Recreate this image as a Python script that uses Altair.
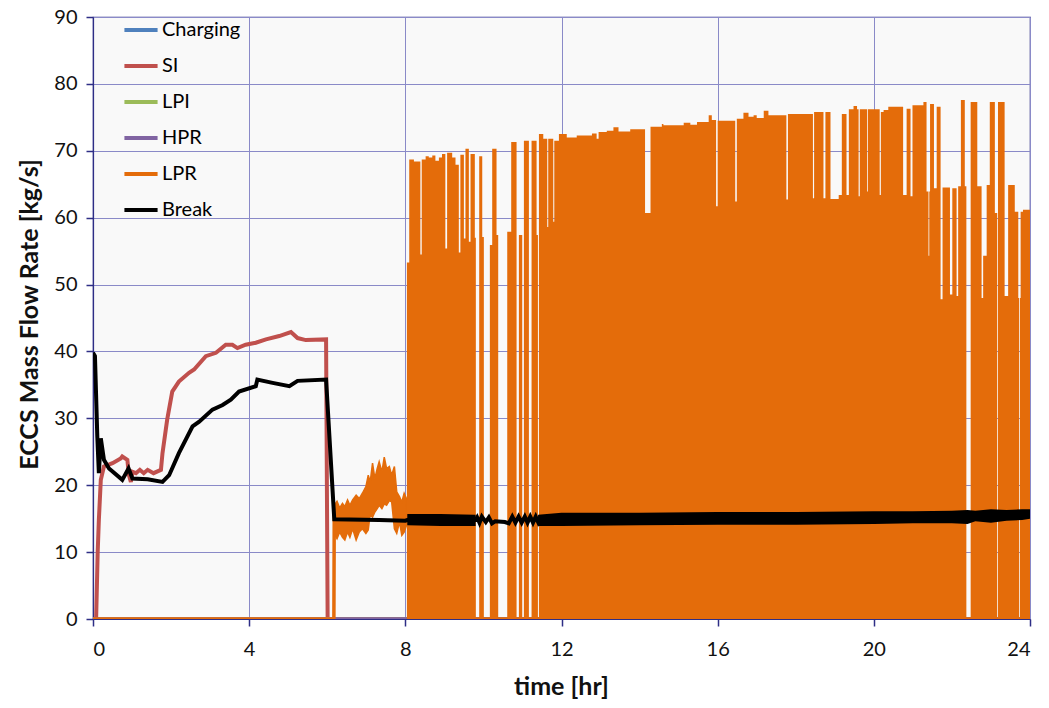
import altair as alt
import pandas as pd

SERIES = ["Charging", "SI", "LPI", "HPR", "LPR", "Break"]
COLORS = ["#4F81BD", "#C0504D", "#9BBB59", "#8064A2", "#E46C0A", "#000000"]
ORANGE = "#E46C0A"

# ---- series (time in hr, flow in kg/s) ----
charging_t = [0, 24]
charging_v = [0, 0]
lpi_t = [0, 24]
lpi_v = [0, 0]
hpr_t = [0, 24]
hpr_v = [0, 0]

si_t = [0, 0.08, 0.12, 0.15, 0.20, 0.28, 0.50, 0.71, 0.75, 0.88, 0.92, 0.97, 1.01, 1.10,
        1.20, 1.30, 1.40, 1.55, 1.74, 1.78, 1.90, 2.03, 2.20, 2.46, 2.59, 2.89, 3.15,
        3.40, 3.57, 3.70, 3.91, 4.17, 4.43, 4.77, 5.07, 5.24, 5.45, 5.97, 6.01, 24]
si_v = [0, 0, 10.0, 14.8, 20.8, 22.8, 23.3, 24.0, 24.3, 23.8, 21.5, 20.5, 22.0, 21.8,
        22.3, 21.8, 22.3, 21.8, 22.3, 24.8, 29.8, 34.0, 35.5, 36.8, 37.3, 39.3, 39.8,
        41.0, 41.0, 40.5, 41.0, 41.3, 41.8, 42.3, 42.9, 42.0, 41.7, 41.8, 0, 0]

# LPR: zero line, then noisy band 6.2-8 hr, then dense cycling 8-24 hr (upper envelope)
lpr_line_t = [0, 6.17, 6.18]
lpr_line_v = [0, 0, 17.0]
lpr_tail_t = [8.04, 24]
lpr_tail_v = [0, 0]

noise_t = [6.18, 6.25, 6.32, 6.39, 6.45, 6.52, 6.58, 6.65, 6.74, 6.82, 6.90, 6.99, 7.05, 7.10,
           7.16, 7.22, 7.28, 7.33, 7.40, 7.46, 7.52, 7.59, 7.65, 7.72, 7.78, 7.85, 7.91, 7.97, 8.03]
noise_hi = [17.0, 17.6, 16.6, 17.3, 16.8, 17.8, 17.0, 17.8, 18.5, 18.0, 18.8, 19.8, 21.5, 20.5,
            23.3, 21.0, 22.5, 23.5, 22.0, 24.2, 22.5, 22.8, 21.5, 22.8, 19.0, 18.3, 17.5, 18.8, 18.0]
noise_lo = [12.8, 12.0, 13.0, 12.2, 11.8, 13.0, 12.2, 13.5, 11.8, 13.0, 13.5, 12.8, 13.3, 15.7,
            15.2, 16.0, 16.5, 17.0, 16.5, 17.2, 17.0, 17.7, 17.5, 13.5, 12.8, 14.5, 12.5, 13.0, 14.0]

env_t = [8.04, 8.10, 8.22, 8.385, 8.42, 8.52, 8.60, 8.69, 8.77, 8.86, 8.94, 9.025, 9.07, 9.20,
         9.285, 9.37, 9.41, 9.50, 9.54, 9.627, 9.67, 9.78, 9.806, 9.892, 9.97, 10.011, 10.165,
         10.225, 10.336, 10.379, 10.61, 10.712, 10.849, 10.909, 10.994, 11.037, 11.165, 11.233,
         11.362, 11.396, 11.422, 11.533, 11.635, 11.66, 11.789, 11.815, 11.934, 12.135, 12.39,
         12.78, 12.90, 12.95, 13.16, 13.33, 13.46, 13.76, 14.14, 14.28, 14.57, 14.61, 15.13,
         15.30, 15.47, 15.77, 15.85, 15.96, 16.0, 16.45, 16.49, 16.66, 16.79, 16.92, 17.0,
         17.18, 17.30, 17.76, 17.80, 18.44, 18.47, 18.71, 18.76, 18.89, 19.10, 19.18, 19.30,
         19.36, 19.48, 19.57, 19.61, 19.64, 19.83, 19.85, 20.15, 20.18, 20.25, 20.37, 20.75,
         20.84, 20.94, 20.99, 21.27, 21.35, 21.40, 21.42, 21.44, 21.54, 21.61, 21.71, 21.76,
         21.95, 22.01, 22.12, 22.16, 22.23, 22.33, 22.37, 22.48, 22.65, 22.76, 22.80, 22.89,
         22.97, 23.10, 23.16, 23.18, 23.35, 23.44, 23.61, 23.70, 23.72, 23.74, 23.76, 23.82, 24.0]
env_v = [53.3, 68.7, 68.4, 54.5, 68.7, 69.2, 69.0, 69.3, 68.5, 69.0, 69.5, 55.4, 69.7, 69.0,
         67.9, 54.8, 69.4, 56.9, 70.3, 56.4, 69.5, 57.0, 0, 69.2, 57.1, 0, 55.9,
         70.3, 57.4, 0, 57.9, 71.3, 0, 57.4, 0, 71.5, 0, 71.5,
         57.4, 0, 72.5, 71.8, 58.6, 71.8, 59.4, 71.5, 72.5, 72.0, 72.3,
         72.6, 71.8, 72.8, 73.0, 73.5, 72.9, 73.2, 60.7, 73.6, 74.0, 73.8, 74.2,
         73.9, 74.3, 75.3, 74.6, 61.7, 74.5, 62.4, 74.8, 75.7, 75.1, 75.3, 74.9,
         76.0, 75.3, 62.7, 75.5, 62.9, 75.8, 62.9, 75.8, 62.8, 63.4, 75.5, 63.4,
         76.2, 76.7, 76.2, 63.2, 76.2, 63.9, 76.2, 63.4, 75.8, 76.1, 76.6, 63.4,
         76.3, 63.2, 76.8, 77.3, 63.9, 54.3, 63.9, 77.0, 64.4, 76.6, 47.8, 64.5,
         48.5, 64.4, 48.3, 64.7, 77.6, 64.7, 0, 77.3, 64.7, 48.0, 54.3, 64.9,
         77.3, 60.7, 0, 77.3, 48.3, 64.9, 60.9, 48.0, 0, 48.0, 60.9, 61.2, 61.2]

break_t = [0, 0.05, 0.11, 0.15, 0.20, 0.28, 0.41, 0.75, 0.91, 1.01, 1.40, 1.78, 1.95, 2.20,
           2.55, 2.72, 3.06, 3.32, 3.53, 3.74, 4.17, 4.21, 4.60, 5.03, 5.24, 5.97, 6.18,
           7.33, 8.00, 8.05, 9.80, 9.84, 9.90, 9.96, 10.06, 10.14, 10.22, 10.30, 10.55,
           10.65, 10.74, 10.82, 10.90, 10.98, 11.06, 11.13, 11.20, 11.27, 11.34, 11.40,
           11.45, 24.0]
break_v = [39.8, 39.3, 27.3, 21.8, 27.0, 23.8, 22.5, 20.8, 22.5, 21.0, 20.9, 20.5, 21.5, 24.8,
           28.8, 29.5, 31.3, 32.0, 32.8, 34.0, 34.8, 35.8, 35.3, 34.8, 35.6, 35.8, 14.9,
           14.8, 14.7, 14.8, 14.8, 15.2, 14.4, 15.3, 14.5, 15.2, 14.3, 14.6, 14.5,
           14.3, 15.3, 14.4, 15.3, 14.4, 15.3, 14.4, 15.3, 14.4, 15.3, 14.5,
           15.2, 15.4]

# dense oscillation band of Break (edges of the black band)
bband_seg = [1, 1, 1, 2, 2, 2, 2, 2, 2, 2, 2, 2, 2, 2, 2, 2, 2]
bband_t = [8.05, 8.90, 9.80, 11.40, 12.0, 14.0, 16.0, 18.0, 20.0, 21.0, 22.0, 22.4, 22.6,
           23.0, 23.4, 23.8, 24.0]
bband_lo = [14.0, 13.9, 13.9, 13.9, 13.9, 14.0, 14.1, 14.1, 14.2, 14.3, 14.3, 14.2, 14.6,
            14.4, 14.7, 14.8, 15.0]
bband_hi = [15.7, 15.7, 15.6, 15.6, 15.9, 15.9, 16.0, 16.0, 16.1, 16.1, 16.2, 16.3, 16.2,
            16.4, 16.3, 16.4, 16.4]

X_TICKS = [0, 4, 8, 12, 16, 20, 24]
Y_TICKS = [0, 10, 20, 30, 40, 50, 60, 70, 80, 90]

FONT = "Lato"
NAVY = "#2E2E86"
GRID = "#8A8AC8"


def frame(name, seg, t, v):
    return pd.DataFrame({"series": name, "seg": seg, "t": t, "v": v})


xscale = alt.Scale(domain=[0, 24], nice=False, zero=False)
yscale = alt.Scale(domain=[0, 90], nice=False)
cscale = alt.Scale(domain=SERIES, range=COLORS)

xaxis = alt.Axis(values=X_TICKS, title="time [hr]", titleX=468, titleY=67,
                 titleBaseline="middle", titleAlign="center", labelPadding=13)
yaxis = alt.Axis(values=Y_TICKS, title="ECCS Mass Flow Rate [kg/s]", titleX=-64, titleY=297,
                 titleAngle=270, titleBaseline="middle", titleAlign="center", labelPadding=9)
legend = alt.Legend(title=None, orient="none", legendX=29, legendY=-6, symbolType="stroke",
                    symbolSize=1100, symbolStrokeWidth=4, labelFont=FONT, labelFontSize=20,
                    labelColor="black", rowPadding=7, labelOffset=2, padding=0)

X = alt.X("t:Q", scale=xscale, axis=xaxis)
Y = alt.Y("v:Q", scale=yscale, axis=yaxis)


def line_layer(df, width):
    return alt.Chart(df).mark_line(strokeWidth=width, clip=True).encode(
        x=X, y=Y, detail="seg:N",
        color=alt.Color("series:N", scale=cscale, legend=legend))


charging = line_layer(frame("Charging", 1, charging_t, charging_v), 3)
si = line_layer(frame("SI", 1, si_t, si_v), 4)
lpi = line_layer(frame("LPI", 1, lpi_t, lpi_v), 3)
hpr = line_layer(frame("HPR", 1, hpr_t, hpr_v), 3.5)
lpr_line = line_layer(pd.concat([frame("LPR", 1, lpr_line_t, lpr_line_v),
                                 frame("LPR", 2, lpr_tail_t, lpr_tail_v)]), 3.5)

noise_df = pd.DataFrame({"t": noise_t, "lo": noise_lo, "hi": noise_hi})
lpr_noise = alt.Chart(noise_df).mark_area(color=ORANGE, opacity=1, clip=True,
                                          stroke=ORANGE, strokeWidth=1.5).encode(
    x=X, y=alt.Y("lo:Q", scale=yscale, axis=yaxis), y2="hi:Q")

env_df = pd.DataFrame({"t": env_t, "top": env_v})
lpr_env = alt.Chart(env_df).mark_area(color=ORANGE, opacity=1, clip=True,
                                      interpolate="step-after").encode(
    x=X, y=alt.Y("top:Q", scale=yscale, axis=yaxis))

brk = line_layer(frame("Break", 1, break_t, break_v), 4)

bband_df = pd.DataFrame({"seg": bband_seg, "t": bband_t, "lo": bband_lo, "hi": bband_hi})
break_band = alt.Chart(bband_df).mark_area(color="black", opacity=1, clip=True).encode(
    x=X, y=alt.Y("lo:Q", scale=yscale, axis=yaxis), y2="hi:Q", detail="seg:N")

chart = alt.layer(
    charging, si, lpi, hpr, lpr_line, lpr_noise, lpr_env, brk, break_band
).properties(
    width=937, height=602,
    autosize=alt.AutoSizeParams(type="none"),
    padding={"left": 85, "top": 9, "right": 11, "bottom": 80},
    background="white",
).configure_view(
    fill="#F9F9F9", stroke=NAVY, strokeWidth=1.2
).configure_axis(
    labelFont=FONT, labelFontSize=20, labelColor="#111111",
    titleFont=FONT, titleFontSize=25, titleFontWeight="bold", titleColor="#111111",
    gridColor=GRID, gridWidth=1, gridOpacity=1,
    domainColor=NAVY, domainWidth=1.2, tickColor=NAVY, tickSize=7, tickWidth=1.5,
).configure_axisX(labelAngle=0)

chart.save("out.html", embed_options={"renderer": "svg", "actions": False})
